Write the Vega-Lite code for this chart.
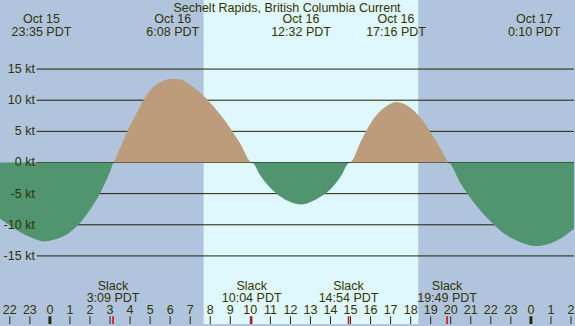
{
  "$schema": "https://vega.github.io/schema/vega-lite/v6.json",
  "width": 575,
  "height": 326,
  "padding": 0,
  "autosize": {"type": "fit", "contains": "padding"},
  "background": "#b0c4de",
  "config": {"view": {"stroke": null}},
  "datasets": {
    "curve": [
      {"t": -2.49, "v": -9.05}, {"t": -2.0, "v": -10.1}, {"t": -1.5, "v": -11.15}, {"t": -1.0, "v": -11.95},
      {"t": -0.5, "v": -12.55}, {"t": -0.33, "v": -12.67}, {"t": 0.0, "v": -12.55}, {"t": 0.5, "v": -12.1},
      {"t": 1.0, "v": -11.2}, {"t": 1.41, "v": -10.0}, {"t": 1.5, "v": -9.7}, {"t": 2.0, "v": -7.6},
      {"t": 2.49, "v": -5.0}, {"t": 2.75, "v": -3.3}, {"t": 3.0, "v": -1.5}, {"t": 3.19, "v": 0},
      {"t": 3.5, "v": 2.3}, {"t": 3.87, "v": 5.0}, {"t": 4.0, "v": 5.9}, {"t": 4.25, "v": 7.5},
      {"t": 4.5, "v": 9.0}, {"t": 4.65, "v": 9.9}, {"t": 5.0, "v": 11.6}, {"t": 5.5, "v": 12.9},
      {"t": 6.14, "v": 13.45}, {"t": 6.5, "v": 13.31}, {"t": 7.0, "v": 12.5}, {"t": 7.47, "v": 11.27},
      {"t": 7.88, "v": 10.0}, {"t": 8.5, "v": 7.7}, {"t": 9.1, "v": 5.0}, {"t": 9.5, "v": 3.0},
      {"t": 10.08, "v": 0}, {"t": 10.5, "v": -2.1}, {"t": 11.0, "v": -4.1}, {"t": 11.32, "v": -5.0},
      {"t": 11.5, "v": -5.45}, {"t": 12.0, "v": -6.35}, {"t": 12.53, "v": -6.76}, {"t": 13.0, "v": -6.35},
      {"t": 13.5, "v": -5.5}, {"t": 13.86, "v": -4.7}, {"t": 14.0, "v": -4.3}, {"t": 14.5, "v": -2.3},
      {"t": 14.96, "v": 0}, {"t": 15.5, "v": 3.3}, {"t": 15.77, "v": 5.0}, {"t": 16.0, "v": 6.3},
      {"t": 16.5, "v": 8.3}, {"t": 17.0, "v": 9.45}, {"t": 17.27, "v": 9.7}, {"t": 17.5, "v": 9.61},
      {"t": 18.0, "v": 8.77}, {"t": 18.5, "v": 7.14}, {"t": 18.96, "v": 5.0}, {"t": 19.5, "v": 2.15},
      {"t": 19.86, "v": 0}, {"t": 20.5, "v": -3.4}, {"t": 20.83, "v": -5.0}, {"t": 21.0, "v": -5.8},
      {"t": 21.5, "v": -7.8}, {"t": 22.16, "v": -10.0}, {"t": 22.5, "v": -11.0}, {"t": 23.0, "v": -12.1},
      {"t": 23.5, "v": -12.85}, {"t": 24.24, "v": -13.4}, {"t": 24.5, "v": -13.35}, {"t": 25.0, "v": -12.95},
      {"t": 25.5, "v": -12.17}, {"t": 26.15, "v": -10.64}
    ],
    "day": [{"start": 7.67, "end": 18.38}],
    "levels": [
      {"v": 15, "label": "15 kt"}, {"v": 10, "label": "10 kt"}, {"v": 5, "label": "5 kt"},
      {"v": 0, "label": "0 kt"}, {"v": -5, "label": "-5 kt"}, {"v": -10, "label": "-10 kt"},
      {"v": -15, "label": "-15 kt"}
    ],
    "events": [
      {"t": -0.42, "label": "Oct 15\n23:35 PDT"},
      {"t": 6.13, "label": "Oct 16\n6:08 PDT"},
      {"t": 12.53, "label": "Oct 16\n12:32 PDT"},
      {"t": 17.27, "label": "Oct 16\n17:16 PDT"},
      {"t": 24.17, "label": "Oct 17\n0:10 PDT"}
    ],
    "slacks": [
      {"t": 3.15, "label": "Slack\n3:09 PDT"},
      {"t": 10.067, "label": "Slack\n10:04 PDT"},
      {"t": 14.9, "label": "Slack\n14:54 PDT"},
      {"t": 19.817, "label": "Slack\n19:49 PDT"}
    ],
    "hours": [
      {"h": -2, "label": "22"}, {"h": -1, "label": "23"}, {"h": 0, "label": "0"}, {"h": 1, "label": "1"},
      {"h": 2, "label": "2"}, {"h": 3, "label": "3"}, {"h": 4, "label": "4"}, {"h": 5, "label": "5"},
      {"h": 6, "label": "6"}, {"h": 7, "label": "7"}, {"h": 8, "label": "8"}, {"h": 9, "label": "9"},
      {"h": 10, "label": "10"}, {"h": 11, "label": "11"}, {"h": 12, "label": "12"}, {"h": 13, "label": "13"},
      {"h": 14, "label": "14"}, {"h": 15, "label": "15"}, {"h": 16, "label": "16"}, {"h": 17, "label": "17"},
      {"h": 18, "label": "18"}, {"h": 19, "label": "19"}, {"h": 20, "label": "20"}, {"h": 21, "label": "21"},
      {"h": 22, "label": "22"}, {"h": 23, "label": "23"}, {"h": 24, "label": "0"}, {"h": 25, "label": "1"},
      {"h": 26, "label": "2"}
    ]
  },
  "layer": [
    {
      "data": {"name": "day"},
      "mark": {"type": "rect", "color": "#dff8ff"},
      "encoding": {
        "x": {"field": "start", "type": "quantitative", "scale": {"domain": [-2.49, 26.15], "nice": false, "zero": false}, "axis": null},
        "x2": {"field": "end"}
      }
    },
    {
      "data": {"name": "levels"},
      "mark": {"type": "rule", "color": "#222200", "strokeWidth": 1},
      "encoding": {
        "x": {"datum": -0.66, "type": "quantitative"},
        "x2": {"datum": 26.15},
        "y": {"field": "v", "type": "quantitative", "scale": {"domain": [-25.93, 26.09], "nice": false, "zero": false}, "axis": null}
      }
    },
    {
      "data": {"name": "curve"},
      "transform": [{"filter": "datum.v >= 0"}],
      "mark": {"type": "area", "color": "#bd9c7c", "opacity": 1, "interpolate": "monotone"},
      "encoding": {
        "x": {"field": "t", "type": "quantitative"},
        "y": {"field": "v", "type": "quantitative"},
        "y2": {"datum": 0}
      }
    },
    {
      "data": {"name": "curve"},
      "transform": [{"filter": "datum.v <= 0"}],
      "mark": {"type": "area", "color": "#519470", "opacity": 1, "interpolate": "monotone"},
      "encoding": {
        "x": {"field": "t", "type": "quantitative"},
        "y": {"field": "v", "type": "quantitative"},
        "y2": {"datum": 0}
      }
    },
    {
      "data": {"name": "levels"},
      "mark": {"type": "text", "align": "right", "baseline": "middle", "font": "Liberation Sans", "fontSize": 12.5, "color": "#333300"},
      "encoding": {
        "x": {"datum": -0.75, "type": "quantitative"},
        "y": {"field": "v", "type": "quantitative"},
        "text": {"field": "label"}
      }
    },
    {
      "data": {"values": [{"title": "Sechelt Rapids, British Columbia Current"}]},
      "mark": {"type": "text", "align": "center", "baseline": "middle", "font": "Liberation Sans", "fontSize": 12.5, "color": "#333300"},
      "encoding": {
        "x": {"datum": 11.83, "type": "quantitative"},
        "y": {"datum": 24.85, "type": "quantitative"},
        "text": {"field": "title"}
      }
    },
    {
      "data": {"name": "events"},
      "mark": {"type": "text", "align": "center", "baseline": "middle", "lineBreak": "\n", "lineHeight": 12.4, "font": "Liberation Sans", "fontSize": 12.5, "color": "#333300"},
      "encoding": {
        "x": {"field": "t", "type": "quantitative"},
        "y": {"datum": 22.98, "type": "quantitative"},
        "text": {"field": "label"}
      }
    },
    {
      "data": {"name": "slacks"},
      "mark": {"type": "text", "align": "center", "baseline": "middle", "lineBreak": "\n", "lineHeight": 12, "font": "Liberation Sans", "fontSize": 12.5, "color": "#333300"},
      "encoding": {
        "x": {"field": "t", "type": "quantitative"},
        "y": {"datum": -19.79, "type": "quantitative"},
        "text": {"field": "label"}
      }
    },
    {
      "data": {"name": "hours"},
      "mark": {"type": "text", "align": "center", "baseline": "middle", "font": "Liberation Sans", "fontSize": 12.5, "color": "#333300"},
      "encoding": {
        "x": {"field": "h", "type": "quantitative"},
        "y": {"datum": -23.69, "type": "quantitative"},
        "text": {"field": "label"}
      }
    },
    {
      "data": {"name": "hours"},
      "mark": {"type": "rule", "color": "#2b2b00"},
      "encoding": {
        "x": {"field": "h", "type": "quantitative"},
        "y": {"datum": -24.69, "type": "quantitative"},
        "y2": {"datum": -25.93},
        "strokeWidth": {"condition": {"test": "datum.h % 24 === 0", "value": 3}, "value": 1}
      }
    },
    {
      "data": {"name": "slacks"},
      "mark": {"type": "rule", "color": "#e00000", "strokeWidth": 1.5},
      "encoding": {
        "x": {"field": "t", "type": "quantitative"},
        "y": {"datum": -24.69, "type": "quantitative"},
        "y2": {"datum": -25.93}
      }
    }
  ]
}
